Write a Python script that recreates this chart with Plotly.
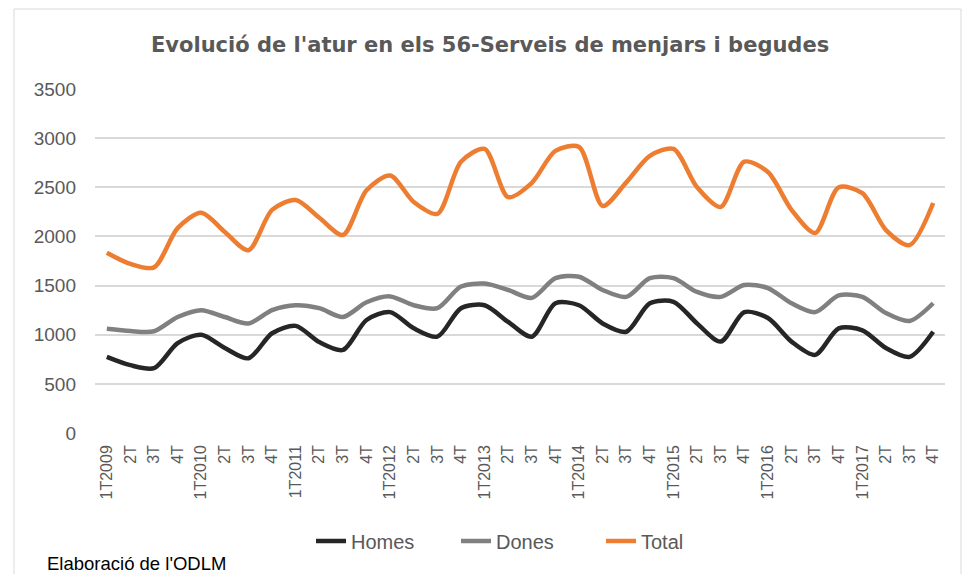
import plotly.graph_objects as go

quarters = ["1T2009", "2T", "3T", "4T",
            "1T2010", "2T", "3T", "4T",
            "1T2011", "2T", "3T", "4T",
            "1T2012", "2T", "3T", "4T",
            "1T2013", "2T", "3T", "4T",
            "1T2014", "2T", "3T", "4T",
            "1T2015", "2T", "3T", "4T",
            "1T2016", "2T", "3T", "4T",
            "1T2017", "2T", "3T", "4T"]

homes = [775, 690, 660, 915, 1000, 865, 760, 1015, 1090, 925, 845, 1150,
         1230, 1065, 980, 1270, 1300, 1130, 980, 1320, 1300, 1115, 1030, 1320,
         1335, 1115, 930, 1230, 1170, 930, 795, 1065, 1045, 865, 775, 1030]

dones = [1060, 1037, 1035, 1180, 1250, 1180, 1115, 1250, 1300, 1270, 1180, 1330,
         1390, 1300, 1270, 1490, 1520, 1455, 1375, 1575, 1590, 1455, 1385, 1575,
         1575, 1435, 1385, 1505, 1475, 1320, 1230, 1400, 1385, 1220, 1140, 1320]

total = [1835, 1720, 1685, 2085, 2240, 2045, 1860, 2270, 2370, 2190, 2015, 2470,
         2620, 2350, 2230, 2760, 2890, 2400, 2545, 2870, 2910, 2310, 2550, 2820,
         2890, 2500, 2300, 2760, 2655, 2270, 2035, 2500, 2440, 2065, 1912, 2340]

xs = list(range(len(quarters)))

series = [("Homes", homes, "#262626"),
          ("Dones", dones, "#808080"),
          ("Total", total, "#ED7D31")]

fig = go.Figure()
for name, vals, col in series:
    fig.add_trace(go.Scatter(x=xs, y=vals, name=name, mode="lines",
                             line=dict(color=col, width=4.5, shape="spline", smoothing=0.8)))

fig.update_layout(
    width=962, height=574,
    margin=dict(l=95, r=17, t=89, b=141),
    paper_bgcolor="white", plot_bgcolor="white",
    font=dict(family="Liberation Sans, Arial, sans-serif", color="#595959"),
    showlegend=True,
    legend=dict(orientation="h", x=(311 - 95) / 850, y=(433 - 541) / 344,
                xanchor="left", yanchor="middle",
                font=dict(size=20, color="#595959"), entrywidth=100, tracegroupgap=0),
    annotations=[
        dict(text="<b>Evolució de l'atur en els 56-Serveis de menjars i begudes</b>",
             xref="paper", yref="paper", x=(490 - 95) / 850, y=(433 - 45) / 344,
             xanchor="center", yanchor="middle", showarrow=False,
             font=dict(size=21, color="#595959", family="DejaVu Sans, sans-serif")),
        dict(text="Elaboració de l'ODLM", xref="paper", yref="paper",
             x=(45 - 95) / 850, y=(433 - 563) / 344, xanchor="left", yanchor="middle",
             showarrow=False, font=dict(size=18.5, color="#000000")),
    ],
    shapes=[dict(type="rect", xref="paper", yref="paper",
                 x0=(14 - 95) / 850, x1=(961 - 95) / 850,
                 y0=(433 - 600) / 344, y1=(433 - 9) / 344,
                 line=dict(color="#d9d9d9", width=1), layer="below")],
)

fig.update_xaxes(range=[-0.5, 35.5], tickmode="array", tickvals=xs, ticktext=quarters,
                 tickangle=-90, tickfont=dict(size=16, color="#595959"),
                 showgrid=False, zeroline=False, showline=False, ticks="",
                 ticklabelstandoff=8)
fig.update_yaxes(range=[0, 3500], tickvals=[0, 500, 1000, 1500, 2000, 2500, 3000, 3500],
                 tickfont=dict(size=19, color="#595959"),
                 showgrid=True, gridcolor="#d9d9d9", gridwidth=1.5,
                 zeroline=False, showline=False, ticks="", ticklabelstandoff=18)

fig.write_html("out.html", config={"displayModeBar": False},
               post_script="document.body.style.margin='0';")
